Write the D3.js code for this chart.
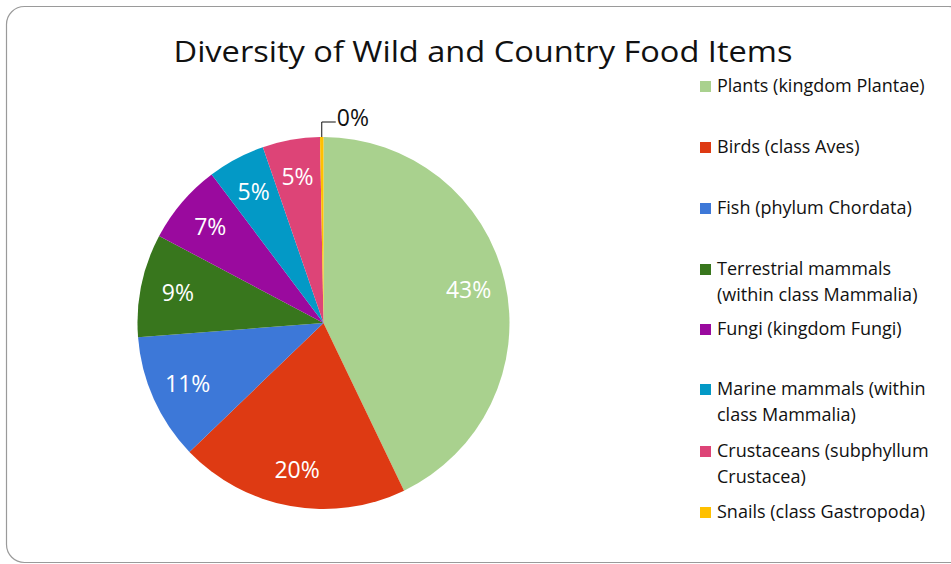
<!DOCTYPE html>
<html>
<head>
<meta charset="utf-8">
<script src="https://cdn.jsdelivr.net/npm/d3@7"></script>
<style>
  html, body { margin: 0; padding: 0; background: #fff; }
  svg { display: block; font-family: "Open Sans", Lato, sans-serif; }
</style>
</head>
<body>
<svg id="chart" width="951" height="564"></svg>
<script>
// Food item groups, share of items (percent), and slice colours
const categories = [
  "Plants (kingdom Plantae)",
  "Birds (class Aves)",
  "Fish (phylum Chordata)",
  "Terrestrial mammals (within class Mammalia)",
  "Fungi (kingdom Fungi)",
  "Marine mammals (within class Mammalia)",
  "Crustaceans (subphyllum Crustacea)",
  "Snails (class Gastropoda)"
];
const values = [43, 20, 11, 9, 7, 5, 5, 0.3];
const colors = ["#A9D18E", "#DE3A13", "#3D78D8", "#38761D", "#9A0A9E", "#0399C6", "#DD4477", "#FFC000"];

// Legend text split over lines as it wraps in the legend column
const legendLines = [
  ["Plants (kingdom Plantae)"],
  ["Birds (class Aves)"],
  ["Fish (phylum Chordata)"],
  ["Terrestrial mammals", "(within class Mammalia)"],
  ["Fungi (kingdom Fungi)"],
  ["Marine mammals (within", "class Mammalia)"],
  ["Crustaceans (subphyllum", "Crustacea)"],
  ["Snails (class Gastropoda)"]
];
const legendY = [86, 147, 208, 269, 329, 389, 451, 512];

const svg = d3.select("#chart");

// chart frame
svg.append("rect")
  .attr("x", 6.5).attr("y", 6.5)
  .attr("width", 960).attr("height", 556)
  .attr("rx", 18).attr("ry", 18)
  .attr("fill", "#fff")
  .attr("stroke", "#9a9a9a")
  .attr("stroke-width", 1.2);

// title
svg.append("text")
  .attr("x", 483).attr("y", 62)
  .attr("text-anchor", "middle")
  .attr("font-size", 30)
  .attr("textLength", 619)
  .attr("lengthAdjust", "spacingAndGlyphs")
  .attr("fill", "#111")
  .text("Diversity of Wild and Country Food Items");

const cx = 323.5, cy = 323, r = 186;
const total = d3.sum(values);
const pct = d3.format(".0%");

const pie = d3.pie().sort(null).value(d => d);
const arcs = pie(values);
const arc = d3.arc().innerRadius(0).outerRadius(r);
const labelArc = d3.arc().innerRadius(r * 0.8).outerRadius(r * 0.8);

const g = svg.append("g").attr("transform", `translate(${cx},${cy})`);

g.selectAll("path.slice")
  .data(arcs)
  .join("path")
  .attr("class", "slice")
  .attr("d", arc)
  .attr("fill", (d, i) => colors[i]);

// percentage labels inside the slices
g.selectAll("text.pct")
  .data(arcs.filter(d => d.value / total >= 0.02))
  .join("text")
  .attr("class", "pct")
  .attr("transform", d => `translate(${labelArc.centroid(d)})`)
  .attr("text-anchor", "middle")
  .attr("dy", "0.36em")
  .attr("font-size", 23)
  .attr("fill", "#fff")
  .text(d => pct(d.value / total));

// tiny slice: label outside with a leader line
arcs.filter(d => d.value / total < 0.02).forEach(d => {
  const a = (d.startAngle + d.endAngle) / 2;
  const px = Math.sin(a) * r, py = -Math.cos(a) * r;
  const ky = -r - 15;
  g.append("polyline")
    .attr("points", `${px},${py} ${px},${ky} ${px + 14},${ky}`)
    .attr("fill", "none")
    .attr("stroke", "#111")
    .attr("stroke-width", 1);
  g.append("text")
    .attr("x", px + 15).attr("y", ky - 4)
    .attr("dy", "0.36em")
    .attr("font-size", 23)
    .attr("fill", "#111")
    .text(pct(d.value / total));
});

// legend
const lg = svg.append("g");
categories.forEach((c, i) => {
  const y = legendY[i];
  lg.append("rect")
    .attr("x", 700).attr("y", y - 5)
    .attr("width", 11).attr("height", 11)
    .attr("fill", colors[i]);
  const t = lg.append("text")
    .attr("x", 717).attr("y", y)
    .attr("font-size", 18)
    .attr("fill", "#111");
  legendLines[i].forEach((line, j) => {
    t.append("tspan").attr("x", 717).attr("dy", j === 0 ? "0.36em" : 26).text(line);
  });
});
</script>
</body>
</html>
